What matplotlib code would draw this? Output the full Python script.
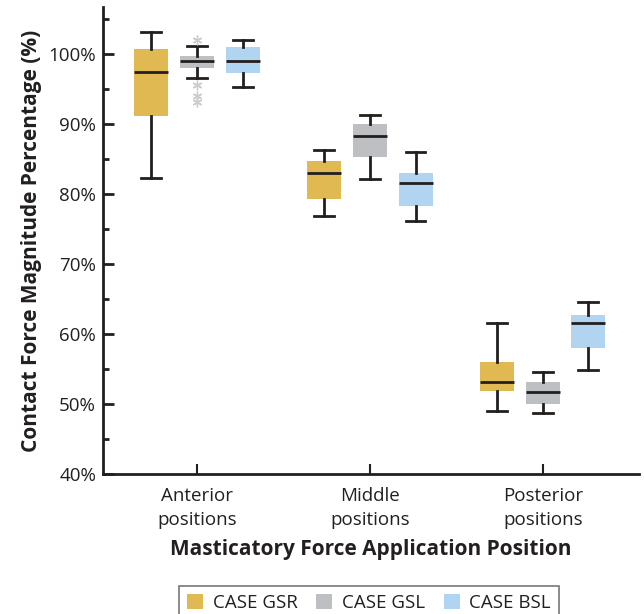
import matplotlib
matplotlib.use("Agg")
import matplotlib.pyplot as plt
from matplotlib.patches import Patch
from matplotlib.ticker import MultipleLocator, FuncFormatter

plt.rcParams['font.family'] = ['Open Sans', 'DejaVu Sans']

categories = ["Anterior\npositions", "Middle\npositions", "Posterior\npositions"]
series = ["CASE GSR", "CASE GSL", "CASE BSL"]
colors = ["#E0B953", "#BEBFC2", "#B1D4F0"]

# per series: [whislo, q1, med, q3, whishi] for each category
gsr = [[82.3, 91.1, 97.4, 100.7, 103.1],
       [76.9, 79.2, 83.0, 84.7, 86.3],
       [49.0, 51.8, 53.1, 56.0, 61.6]]
gsl = [[96.6, 98.0, 98.9, 99.7, 101.1],
       [82.1, 85.3, 88.2, 89.9, 91.3],
       [48.7, 50.0, 51.7, 53.1, 54.5]]
bsl = [[95.3, 97.3, 99.0, 100.9, 102.0],
       [76.1, 78.3, 81.6, 83.0, 86.0],
       [54.9, 58.0, 61.6, 62.7, 64.5]]
gsl_fliers = [[101.9, 95.6, 94.0, 93.1], [], []]
all_series = [gsr, gsl, bsl]
all_fliers = [[[], [], []], gsl_fliers, [[], [], []]]

fig = plt.figure(figsize=(6.44, 6.14), dpi=100)
ax = fig.add_axes([0.160, 0.228, 0.832, 0.761])

offsets = [-0.265, 0.0, 0.263]
for si, (data, fl, col) in enumerate(zip(all_series, all_fliers, colors)):
    stats = []
    for ci, v in enumerate(data):
        stats.append(dict(whislo=v[0], q1=v[1], med=v[2], q3=v[3], whishi=v[4],
                          fliers=fl[ci]))
    pos = [ci + offsets[si] for ci in range(len(categories))]
    ax.bxp(stats, positions=pos, widths=0.197, patch_artist=True,
           showfliers=True, capwidths=0.115,
           boxprops=dict(facecolor=col, edgecolor='none', linewidth=0),
           medianprops=dict(color='#231f20', linewidth=2.0),
           whiskerprops=dict(color='#231f20', linewidth=2.0),
           capprops=dict(color='#231f20', linewidth=2.0),
           flierprops=dict(marker=(6, 2, 0), markersize=7, markeredgecolor='#cccccc',
                           markerfacecolor='none', markeredgewidth=1.0, linestyle='none'),
           manage_ticks=False)

ax.set_xlim(-0.545, 2.555)
ax.set_ylim(40, 106.7)
ax.spines['top'].set_visible(False)
ax.spines['right'].set_visible(False)
for s in ['left', 'bottom']:
    ax.spines[s].set_linewidth(2.0)
    ax.spines[s].set_color('#231f20')

ax.set_xticks(range(len(categories)))
ax.set_xticklabels(categories, fontsize=13.5, color='#231f20', linespacing=1.45)
ax.yaxis.set_major_locator(MultipleLocator(10))
ax.yaxis.set_minor_locator(MultipleLocator(5))
ax.yaxis.set_major_formatter(FuncFormatter(lambda v, p: f"{int(v)}%"))
ax.tick_params(axis='y', which='major', direction='in', length=8, width=2.0,
               color='#231f20', labelsize=13.5, labelcolor='#231f20', pad=5)
ax.tick_params(axis='y', which='minor', direction='in', length=4, width=2.0, color='#231f20')
ax.tick_params(axis='x', which='major', direction='in', length=7, width=1.5,
               color='#231f20', pad=9)

ax.set_ylabel("Contact Force Magnitude Percentage (%)", fontsize=15, fontweight='bold',
              color='#231f20', labelpad=5)
ax.set_xlabel("Masticatory Force Application Position", fontsize=15, fontweight='bold',
              color='#231f20', labelpad=7)

handles = [Patch(facecolor=c, edgecolor='none', label=l) for c, l in zip(colors, series)]
leg = fig.legend(handles=handles, loc='lower center', bbox_to_anchor=(0.573, -0.026), ncol=3,
                 fontsize=13.5, frameon=True, fancybox=False, edgecolor='#555555',
                 handlelength=0.85, handleheight=0.85, handletextpad=0.5, columnspacing=1.0,
                 borderpad=0.45)
leg.get_frame().set_linewidth(1.2)
for t in leg.get_texts():
    t.set_color('#231f20')

fig.savefig("out.png", dpi=100)
